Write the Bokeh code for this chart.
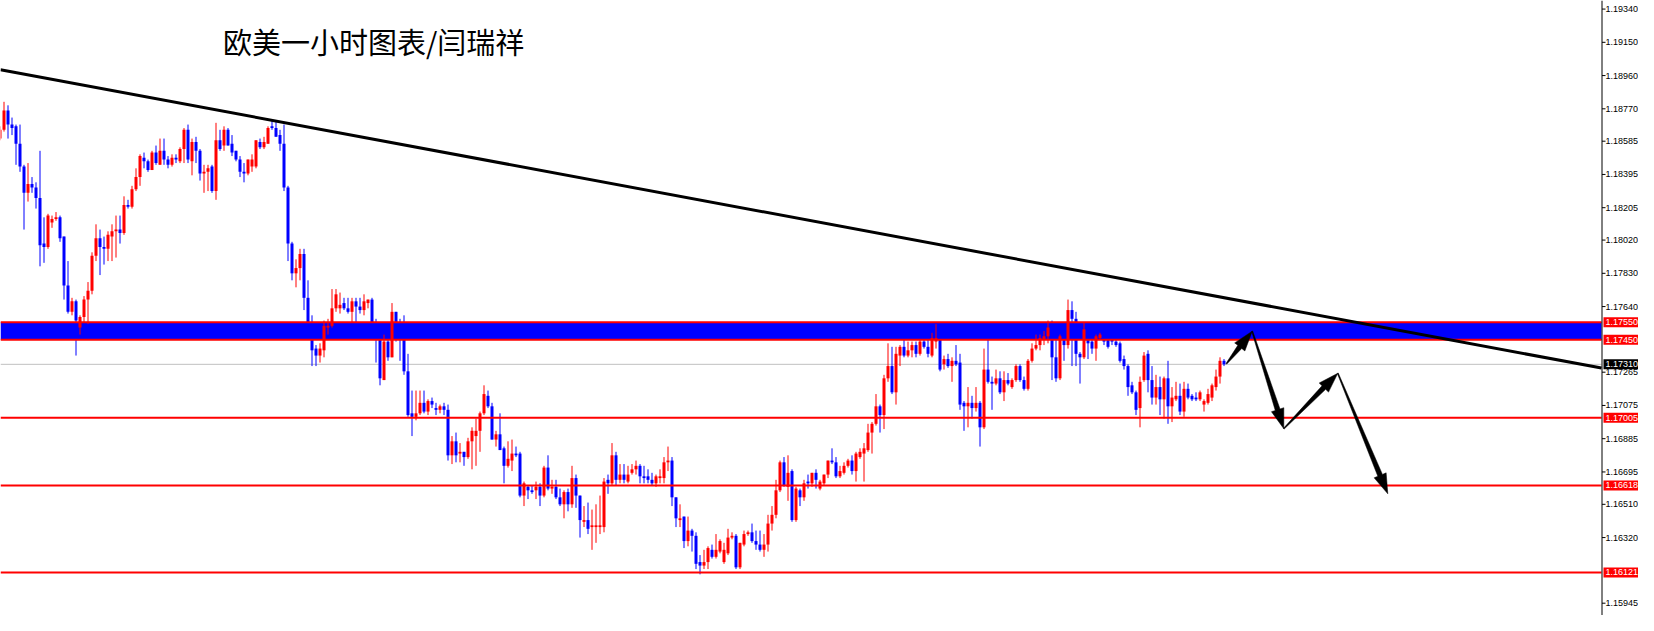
import math
from bokeh.plotting import figure
from bokeh.models import ColumnDataSource, Range1d, Label
from bokeh.core.properties import value
from bokeh.embed import file_html
from bokeh.resources import INLINE

# ---------------- data (EURUSD 1H) ----------------
bar_index = list(range(-1, 306))

opens = [
    1.1860, 1.1865, 1.1876, 1.1868, 1.1867, 1.1857, 1.1844, 1.1829, 1.1834, 1.1832,
    1.1826, 1.1800, 1.1798, 1.1812, 1.1814, 1.1815, 1.1804, 1.1776, 1.1761, 1.1767,
    1.1752, 1.1758, 1.1768, 1.1773, 1.1793, 1.1803, 1.1798, 1.1797, 1.1804, 1.1807,
    1.1808, 1.1806, 1.1822, 1.1821, 1.1831, 1.1838, 1.1849, 1.1847, 1.1842, 1.1852,
    1.1845, 1.1853, 1.1848, 1.1845, 1.1849, 1.1847, 1.1854, 1.1865, 1.1847, 1.1858,
    1.1853, 1.1840, 1.1841, 1.1844, 1.1830, 1.1859, 1.1856, 1.1865, 1.1857, 1.1853,
    1.1848, 1.1841, 1.1840, 1.1844, 1.1844, 1.1858, 1.1855, 1.1857, 1.1867, 1.1866,
    1.1862, 1.1857, 1.1832, 1.1800, 1.1783, 1.1786, 1.1794, 1.1769, 1.1752, 1.1740,
    1.1736, 1.1739, 1.1752, 1.1753, 1.1763, 1.1763, 1.1766, 1.1763, 1.1761, 1.1767,
    1.1764, 1.1762, 1.1766, 1.1768, 1.1755, 1.1746, 1.1722, 1.1744, 1.1735, 1.1761,
    1.1747, 1.1755, 1.1727, 1.1703, 1.1701, 1.1703, 1.1709, 1.1704, 1.1710, 1.1706,
    1.1705, 1.1707, 1.1705, 1.1679, 1.1687, 1.1680, 1.1681, 1.1678, 1.1687, 1.1690,
    1.1693, 1.1703, 1.1713, 1.1707, 1.1688, 1.1691, 1.1683, 1.1673, 1.1676, 1.1680,
    1.1680, 1.1656, 1.1661, 1.1659, 1.1659, 1.1661, 1.1656, 1.1672, 1.1660, 1.1661,
    1.1655, 1.1651, 1.1658, 1.1651, 1.1666, 1.1656, 1.1641, 1.1642, 1.1638, 1.1638,
    1.1638, 1.1638, 1.1665, 1.1663, 1.1679, 1.1665, 1.1668, 1.1664, 1.1669, 1.1671,
    1.1673, 1.1667, 1.1667, 1.1665, 1.1663, 1.1666, 1.1666, 1.1675, 1.1676, 1.1655,
    1.1642, 1.1644, 1.1630, 1.1636, 1.1633, 1.1618, 1.1616, 1.1618, 1.1625, 1.1621,
    1.1624, 1.1618, 1.1623, 1.1632, 1.1633, 1.1615, 1.1628, 1.1634, 1.1635, 1.1630,
    1.1628, 1.1625, 1.1628, 1.1640, 1.1645, 1.1659, 1.1675, 1.1661, 1.1670, 1.1642,
    1.1659, 1.1655, 1.1664, 1.1663, 1.1669, 1.1660, 1.1663, 1.1668, 1.1676, 1.1675,
    1.1667, 1.1669, 1.1673, 1.1676, 1.1670, 1.1678, 1.1680, 1.1682, 1.1692, 1.1697,
    1.1707, 1.1702, 1.1723, 1.1730, 1.1715, 1.1736, 1.1741, 1.1736, 1.1739, 1.1742,
    1.1737, 1.1744, 1.1741, 1.1736, 1.1744, 1.1745, 1.1731, 1.1734, 1.1730, 1.1733,
    1.1732, 1.1709, 1.1707, 1.1709, 1.1706, 1.1709, 1.1695, 1.1728, 1.1721, 1.1720,
    1.1723, 1.1715, 1.1722, 1.1718, 1.1722, 1.1730, 1.1722, 1.1717, 1.1733, 1.1740,
    1.1742, 1.1745, 1.1747, 1.1752, 1.1735, 1.1723, 1.1747, 1.1742, 1.1762, 1.1757,
    1.1737, 1.1735, 1.1747, 1.1744, 1.1740, 1.1746, 1.1748, 1.1746, 1.1745, 1.1744,
    1.1743, 1.1734, 1.1730, 1.1719, 1.1715, 1.1706, 1.1722, 1.1737, 1.1722, 1.1712,
    1.1718, 1.1711, 1.1723, 1.1707, 1.1711, 1.1713, 1.1704, 1.1717, 1.1713, 1.1712,
    1.1711, 1.1708, 1.1709, 1.1712, 1.1718, 1.1724, 1.1733,
]

highs = [
    1.1867, 1.1881, 1.1879, 1.1872, 1.1868, 1.1868, 1.1845, 1.1846, 1.1838, 1.1835,
    1.1853, 1.1815, 1.1817, 1.1816, 1.1818, 1.1816, 1.1804, 1.1790, 1.1769, 1.1768,
    1.1759, 1.1770, 1.1778, 1.1795, 1.1811, 1.1808, 1.1804, 1.1807, 1.1811, 1.1816,
    1.1816, 1.1827, 1.1825, 1.1833, 1.1843, 1.1851, 1.1852, 1.1848, 1.1853, 1.1856,
    1.1860, 1.1860, 1.1850, 1.1851, 1.1851, 1.1855, 1.1866, 1.1868, 1.1860, 1.1861,
    1.1854, 1.1845, 1.1845, 1.1845, 1.1869, 1.1865, 1.1867, 1.1866, 1.1862, 1.1853,
    1.1850, 1.1846, 1.1848, 1.1851, 1.1859, 1.1860, 1.1861, 1.1867, 1.1870, 1.1870,
    1.1865, 1.1868, 1.1833, 1.1801, 1.1791, 1.1797, 1.1797, 1.1779, 1.1759, 1.1742,
    1.1743, 1.1756, 1.1757, 1.1774, 1.1774, 1.1772, 1.1769, 1.1769, 1.1769, 1.1769,
    1.1769, 1.1771, 1.1768, 1.1769, 1.1757, 1.1747, 1.1748, 1.1748, 1.1766, 1.1761,
    1.1757, 1.1759, 1.1737, 1.1716, 1.1716, 1.1716, 1.1716, 1.1711, 1.1712, 1.1709,
    1.1708, 1.1709, 1.1708, 1.1690, 1.1692, 1.1686, 1.1681, 1.1689, 1.1695, 1.1700,
    1.1704, 1.1719, 1.1716, 1.1709, 1.1693, 1.1703, 1.1684, 1.1687, 1.1688, 1.1684,
    1.1681, 1.1664, 1.1662, 1.1662, 1.1664, 1.1663, 1.1673, 1.1679, 1.1665, 1.1665,
    1.1660, 1.1659, 1.1660, 1.1673, 1.1668, 1.1656, 1.1650, 1.1652, 1.1648, 1.1651,
    1.1656, 1.1666, 1.1668, 1.1686, 1.1681, 1.1674, 1.1674, 1.1673, 1.1674, 1.1676,
    1.1674, 1.1673, 1.1671, 1.1669, 1.1668, 1.1671, 1.1678, 1.1684, 1.1678, 1.1655,
    1.1651, 1.1644, 1.1644, 1.1637, 1.1635, 1.1622, 1.1625, 1.1627, 1.1628, 1.1634,
    1.1631, 1.1629, 1.1637, 1.1635, 1.1634, 1.1629, 1.1636, 1.1636, 1.1640, 1.1636,
    1.1636, 1.1634, 1.1645, 1.1650, 1.1665, 1.1676, 1.1678, 1.1679, 1.1671, 1.1661,
    1.1660, 1.1665, 1.1668, 1.1669, 1.1671, 1.1665, 1.1668, 1.1676, 1.1683, 1.1678,
    1.1673, 1.1675, 1.1677, 1.1679, 1.1681, 1.1683, 1.1686, 1.1697, 1.1698, 1.1714,
    1.1708, 1.1725, 1.1743, 1.1741, 1.1741, 1.1742, 1.1745, 1.1744, 1.1744, 1.1744,
    1.1745, 1.1745, 1.1747, 1.1749, 1.1754, 1.1746, 1.1736, 1.1737, 1.1735, 1.1742,
    1.1737, 1.1710, 1.1718, 1.1713, 1.1718, 1.1710, 1.1740, 1.1752, 1.1724, 1.1728,
    1.1727, 1.1727, 1.1726, 1.1723, 1.1731, 1.1731, 1.1724, 1.1734, 1.1743, 1.1748,
    1.1748, 1.1750, 1.1756, 1.1756, 1.1747, 1.1748, 1.1748, 1.1768, 1.1767, 1.1761,
    1.1738, 1.1755, 1.1748, 1.1746, 1.1748, 1.1749, 1.1749, 1.1747, 1.1747, 1.1745,
    1.1744, 1.1736, 1.1731, 1.1721, 1.1716, 1.1724, 1.1738, 1.1739, 1.1730, 1.1725,
    1.1724, 1.1724, 1.1733, 1.1718, 1.1721, 1.1720, 1.1721, 1.1720, 1.1714, 1.1715,
    1.1716, 1.1711, 1.1717, 1.1720, 1.1728, 1.1735, 1.1734,
]

lows = [
    1.1859, 1.1864, 1.1860, 1.1862, 1.1845, 1.1841, 1.1808, 1.1824, 1.1829, 1.1820,
    1.1787, 1.1789, 1.1797, 1.1809, 1.1813, 1.1801, 1.1768, 1.1760, 1.1759, 1.1736,
    1.1748, 1.1755, 1.1754, 1.1771, 1.1790, 1.1782, 1.1788, 1.1790, 1.1790, 1.1792,
    1.1800, 1.1805, 1.1820, 1.1820, 1.1830, 1.1833, 1.1843, 1.1841, 1.1842, 1.1845,
    1.1845, 1.1845, 1.1843, 1.1844, 1.1846, 1.1846, 1.1846, 1.1846, 1.1839, 1.1846,
    1.1836, 1.1829, 1.1830, 1.1829, 1.1825, 1.1853, 1.1853, 1.1856, 1.1850, 1.1847,
    1.1838, 1.1835, 1.1839, 1.1841, 1.1843, 1.1854, 1.1854, 1.1857, 1.1865, 1.1861,
    1.1853, 1.1830, 1.1790, 1.1779, 1.1775, 1.1779, 1.1762, 1.1750, 1.1730, 1.1730,
    1.1732, 1.1735, 1.1748, 1.1752, 1.1761, 1.1760, 1.1762, 1.1760, 1.1755, 1.1755,
    1.1760, 1.1759, 1.1763, 1.1754, 1.1732, 1.1719, 1.1722, 1.1733, 1.1735, 1.1744,
    1.1733, 1.1725, 1.1701, 1.1690, 1.1699, 1.1702, 1.1703, 1.1702, 1.1706, 1.1702,
    1.1703, 1.1702, 1.1676, 1.1674, 1.1675, 1.1675, 1.1673, 1.1677, 1.1671, 1.1673,
    1.1681, 1.1702, 1.1706, 1.1688, 1.1684, 1.1682, 1.1663, 1.1672, 1.1670, 1.1678,
    1.1655, 1.1650, 1.1654, 1.1657, 1.1654, 1.1650, 1.1655, 1.1659, 1.1657, 1.1654,
    1.1650, 1.1643, 1.1647, 1.1649, 1.1649, 1.1632, 1.1638, 1.1634, 1.1625, 1.1629,
    1.1634, 1.1635, 1.1657, 1.1662, 1.1662, 1.1663, 1.1663, 1.1663, 1.1668, 1.1668,
    1.1663, 1.1663, 1.1663, 1.1662, 1.1661, 1.1663, 1.1663, 1.1670, 1.1650, 1.1638,
    1.1638, 1.1626, 1.1627, 1.1624, 1.1614, 1.1611, 1.1614, 1.1614, 1.1620, 1.1620,
    1.1623, 1.1617, 1.1622, 1.1631, 1.1614, 1.1614, 1.1627, 1.1633, 1.1629, 1.1625,
    1.1624, 1.1621, 1.1624, 1.1636, 1.1643, 1.1658, 1.1661, 1.1653, 1.1641, 1.1641,
    1.1650, 1.1653, 1.1660, 1.1661, 1.1660, 1.1659, 1.1662, 1.1666, 1.1674, 1.1666,
    1.1666, 1.1668, 1.1672, 1.1668, 1.1664, 1.1677, 1.1664, 1.1681, 1.1680, 1.1696,
    1.1692, 1.1694, 1.1721, 1.1714, 1.1708, 1.1730, 1.1735, 1.1735, 1.1735, 1.1735,
    1.1736, 1.1740, 1.1735, 1.1735, 1.1740, 1.1727, 1.1728, 1.1729, 1.1721, 1.1730,
    1.1705, 1.1693, 1.1695, 1.1700, 1.1704, 1.1684, 1.1694, 1.1720, 1.1705, 1.1719,
    1.1714, 1.1710, 1.1719, 1.1717, 1.1721, 1.1721, 1.1716, 1.1716, 1.1732, 1.1739,
    1.1739, 1.1742, 1.1743, 1.1722, 1.1721, 1.1722, 1.1733, 1.1740, 1.1730, 1.1730,
    1.1720, 1.1734, 1.1734, 1.1737, 1.1733, 1.1745, 1.1742, 1.1740, 1.1742, 1.1741,
    1.1732, 1.1728, 1.1713, 1.1714, 1.1702, 1.1695, 1.1721, 1.1715, 1.1708, 1.1708,
    1.1702, 1.1700, 1.1697, 1.1698, 1.1710, 1.1702, 1.1701, 1.1711, 1.1710, 1.1710,
    1.1710, 1.1704, 1.1708, 1.1710, 1.1716, 1.1720, 1.1730,
]

closes = [
    1.1865, 1.1876, 1.1868, 1.1866, 1.1857, 1.1844, 1.1829, 1.1834, 1.1832, 1.1826,
    1.1799, 1.1798, 1.1816, 1.1814, 1.1815, 1.1803, 1.1776, 1.1761, 1.1767, 1.1756,
    1.1758, 1.1768, 1.1773, 1.1793, 1.1803, 1.1798, 1.1797, 1.1805, 1.1807, 1.1808,
    1.1806, 1.1822, 1.1821, 1.1831, 1.1838, 1.1850, 1.1847, 1.1842, 1.1852, 1.1846,
    1.1853, 1.1848, 1.1845, 1.1849, 1.1848, 1.1854, 1.1865, 1.1848, 1.1858, 1.1853,
    1.1840, 1.1841, 1.1843, 1.1830, 1.1859, 1.1854, 1.1865, 1.1856, 1.1852, 1.1848,
    1.1841, 1.1840, 1.1848, 1.1848, 1.1859, 1.1855, 1.1858, 1.1866, 1.1866, 1.1861,
    1.1857, 1.1832, 1.1800, 1.1783, 1.1786, 1.1794, 1.1769, 1.1752, 1.1739, 1.1736,
    1.1740, 1.1753, 1.1753, 1.1763, 1.1771, 1.1765, 1.1763, 1.1761, 1.1767, 1.1764,
    1.1762, 1.1767, 1.1768, 1.1755, 1.1746, 1.1723, 1.1744, 1.1735, 1.1761, 1.1747,
    1.1745, 1.1727, 1.1702, 1.1701, 1.1703, 1.1709, 1.1704, 1.1710, 1.1708, 1.1705,
    1.1707, 1.1705, 1.1679, 1.1687, 1.1679, 1.1681, 1.1678, 1.1687, 1.1693, 1.1693,
    1.1703, 1.1714, 1.1707, 1.1688, 1.1691, 1.1682, 1.1673, 1.1677, 1.1680, 1.1679,
    1.1656, 1.1663, 1.1659, 1.1658, 1.1661, 1.1656, 1.1672, 1.1660, 1.1661, 1.1655,
    1.1651, 1.1658, 1.1651, 1.1666, 1.1656, 1.1642, 1.1642, 1.1637, 1.1639, 1.1639,
    1.1639, 1.1664, 1.1663, 1.1679, 1.1665, 1.1668, 1.1665, 1.1668, 1.1671, 1.1673,
    1.1667, 1.1666, 1.1665, 1.1663, 1.1667, 1.1667, 1.1675, 1.1676, 1.1655, 1.1643,
    1.1643, 1.1630, 1.1636, 1.1633, 1.1617, 1.1616, 1.1618, 1.1626, 1.1621, 1.1625,
    1.1630, 1.1625, 1.1632, 1.1633, 1.1615, 1.1629, 1.1634, 1.1635, 1.1630, 1.1628,
    1.1625, 1.1628, 1.1640, 1.1645, 1.1659, 1.1675, 1.1662, 1.1669, 1.1642, 1.1660,
    1.1655, 1.1663, 1.1663, 1.1669, 1.1665, 1.1664, 1.1668, 1.1676, 1.1675, 1.1667,
    1.1670, 1.1673, 1.1676, 1.1670, 1.1680, 1.1681, 1.1683, 1.1692, 1.1697, 1.1707,
    1.1702, 1.1723, 1.1730, 1.1715, 1.1737, 1.1741, 1.1736, 1.1739, 1.1742, 1.1737,
    1.1744, 1.1741, 1.1737, 1.1746, 1.1746, 1.1728, 1.1734, 1.1730, 1.1733, 1.1731,
    1.1708, 1.1707, 1.1709, 1.1706, 1.1709, 1.1695, 1.1728, 1.1721, 1.1720, 1.1723,
    1.1715, 1.1722, 1.1720, 1.1722, 1.1730, 1.1722, 1.1717, 1.1733, 1.1740, 1.1742,
    1.1746, 1.1747, 1.1752, 1.1735, 1.1723, 1.1747, 1.1742, 1.1762, 1.1757, 1.1737,
    1.1735, 1.1751, 1.1743, 1.1740, 1.1747, 1.1748, 1.1744, 1.1741, 1.1744, 1.1742,
    1.1733, 1.1730, 1.1718, 1.1715, 1.1705, 1.1721, 1.1736, 1.1722, 1.1712, 1.1718,
    1.1711, 1.1723, 1.1707, 1.1712, 1.1713, 1.1704, 1.1717, 1.1712, 1.1711, 1.1711,
    1.1715, 1.1710, 1.1714, 1.1719, 1.1724, 1.1733, 1.1731,
]

level_prices = [1.17550, 1.17450, 1.17005, 1.16618, 1.16121]
level_labels = ["1.17550", "1.17450", "1.17005", "1.16618", "1.16121"]
zone_top = 1.17550
zone_bottom = 1.17450
bid_price = 1.17310
bid_label = "1.17310"

trend_x = [0, 400]
trend_y = [1.18990, 1.17286]

path_x = [305.6, 312.05, 319.95, 333.45, 345.95]
path_y = [1.17313, 1.17499, 1.16942, 1.17259, 1.16570]

axis_ticks = [1.19340, 1.19150, 1.18960, 1.18770, 1.18585, 1.18395, 1.18205,
              1.18020, 1.17830, 1.17640, 1.17265, 1.17075, 1.16885, 1.16695,
              1.16510, 1.16320, 1.15945]
axis_tick_labels = ["1.19340", "1.19150", "1.18960", "1.18770", "1.18585", "1.18395",
                    "1.18205", "1.18020", "1.17830", "1.17640", "1.17265", "1.17075",
                    "1.16885", "1.16695", "1.16510", "1.16320", "1.15945"]

title_text = "欧美一小时图表/闫瑞祥"

# ---------------- layout constants ----------------
FW, FH = 1638, 615
PX_PER_BAR = 4.0
XL = -0.875
XR = XL + FW / PX_PER_BAR
YT = 1.19389
YB = 1.158747
CHART_R = 399.375          # right edge of the price area (px 1601)
AXIS_X = 399.5             # axis line (px 1601.5)
RED = "#FF0000"
BLUE = "#0000FF"

p = figure(frame_width=FW, frame_height=FH,
           x_range=Range1d(XL, XR), y_range=Range1d(YB, YT),
           output_backend="svg", toolbar_location=None,
           x_axis_location=None, y_axis_location=None,
           min_border=0, outline_line_color=None,
           background_fill_color="white", border_fill_color="white")
p.grid.visible = False

sx = PX_PER_BAR
sy = FH / (YT - YB)

# support/resistance zone and bid line (behind candles)
p.quad(left=[XL], right=[CHART_R], bottom=[zone_bottom], top=[zone_top],
       fill_color=BLUE, line_color=None)
p.segment(x0=[XL], x1=[CHART_R], y0=[bid_price], y1=[bid_price],
          line_color="#C0C0C0", line_width=1)

# candles
colors = [RED if c >= o else BLUE for o, c in zip(opens, closes)]
src = ColumnDataSource(dict(
    x=bar_index, high=highs, low=lows,
    top=[max(o, c) for o, c in zip(opens, closes)],
    bottom=[min(o, c) for o, c in zip(opens, closes)],
    color=colors))
p.segment(x0="x", y0="low", x1="x", y1="high", line_color="color",
          line_width=1, source=src)
p.vbar(x="x", width=0.75, top="top", bottom="bottom", fill_color="color",
       line_color=None, source=src)

# horizontal levels
p.segment(x0=[XL] * len(level_prices), x1=[CHART_R] * len(level_prices),
          y0=level_prices, y1=level_prices, line_color=RED, line_width=2)

# trend line, clipped to the price area
slope = (trend_y[1] - trend_y[0]) / (trend_x[1] - trend_x[0])
p.line([XL, CHART_R],
       [trend_y[0] + slope * (XL - trend_x[0]), trend_y[0] + slope * (CHART_R - trend_x[0])],
       line_color="black", line_width=3)

# arrows (tapered shafts with heads), geometry computed in pixel space
head_len, head_w, w_start, w_end = 20.0, 13.0, 1.0, 5.0
axs, ays = [], []
for i in range(len(path_x) - 1):
    x0p, y0p = path_x[i] * sx, path_y[i] * sy
    x1p, y1p = path_x[i + 1] * sx, path_y[i + 1] * sy
    dx, dy = x1p - x0p, y1p - y0p
    L = math.hypot(dx, dy)
    ux, uy = dx / L, dy / L
    nx, ny = -uy, ux
    bx, by = x1p - ux * head_len, y1p - uy * head_len
    pts = [
        (x0p + nx * w_start / 2, y0p + ny * w_start / 2),
        (bx + nx * w_end / 2, by + ny * w_end / 2),
        (bx + nx * head_w / 2, by + ny * head_w / 2),
        (x1p, y1p),
        (bx - nx * head_w / 2, by - ny * head_w / 2),
        (bx - nx * w_end / 2, by - ny * w_end / 2),
        (x0p - nx * w_start / 2, y0p - ny * w_start / 2),
    ]
    axs.append([q[0] / sx for q in pts])
    ays.append([q[1] / sy for q in pts])
p.patches(axs, ays, fill_color="black", line_color="black", line_width=0.5)

# price scale on the right (MT4 style)
p.segment(x0=[AXIS_X], x1=[AXIS_X], y0=[YB], y1=[YT], line_color="black", line_width=1)
tick_len = 3.5 / sx
p.segment(x0=[AXIS_X] * len(axis_ticks), x1=[AXIS_X + tick_len] * len(axis_ticks),
          y0=axis_ticks, y1=axis_ticks, line_color="black", line_width=1)
label_x = AXIS_X + 3.5 / sx
p.text(x=[label_x] * len(axis_ticks), y=axis_ticks, text=axis_tick_labels,
       text_font=value("Liberation Sans"), text_font_size="9px",
       text_color="black", text_baseline="middle", text_align="left")

# coloured price boxes
box_left = AXIS_X + 1.5 / sx
half_h = 5.0 / sy
box_prices = level_prices + [bid_price]
box_texts = level_labels + [bid_label]
box_colors = [RED] * len(level_prices) + ["black"]
p.quad(left=[box_left] * len(box_prices), right=[XR] * len(box_prices),
       bottom=[v - half_h for v in box_prices], top=[v + half_h for v in box_prices],
       fill_color=box_colors, line_color=None)
p.text(x=[label_x] * len(box_prices), y=box_prices, text=box_texts,
       text_font=value("Liberation Sans"), text_font_size="9px",
       text_color="white", text_baseline="middle", text_align="left")

# title text
p.add_layout(Label(x=54.75, y=1.19160, text=title_text, text_color="black",
                   text_font="Noto Sans CJK SC", text_font_size="29px",
                   text_baseline="middle", text_align="left"))

open("out.html", "w", encoding="utf-8").write(file_html(p, INLINE))
